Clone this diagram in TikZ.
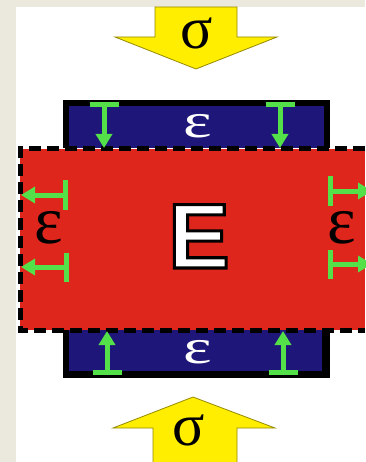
\documentclass[tikz,border=0pt]{standalone}
\usepackage{fontspec}
\setmainfont{Liberation Serif}
\newfontfamily\headfont{Liberation Sans}
\usetikzlibrary{arrows.meta}
\definecolor{paper}{RGB}{235,232,222}
\definecolor{bodyred}{RGB}{222,38,28}
\definecolor{layerblue}{RGB}{30,22,120}
\definecolor{strainbar}{RGB}{84,224,72}
\definecolor{loadyellow}{RGB}{255,238,0}
\definecolor{loadedge}{RGB}{150,138,0}
\begin{document}
\begin{tikzpicture}[x=1pt,y=-1pt,
    load/.style={fill=loadyellow,draw=loadedge,line width=0.8pt},
    strain/.style={strainbar,line width=5pt,{Bar[width=29pt]}-{Triangle[width=16pt,length=14pt]}},
    frame/.style={line width=5pt,dash pattern=on 12pt off 6pt},
    eps/.style={inner sep=0pt,font=\fontsize{68}{68}\selectfont},
    sig/.style={inner sep=0pt,font=\fontsize{60}{60}\selectfont}]
    \useasboundingbox (0,0) rectangle (365,462);
    \fill[paper] (0,0) rectangle (365,462);
    \fill[white] (16,7) rectangle (365,462);

    % loaded body
    \fill[bodyred] (20,149) rectangle (365,330);
    \fill[black] (63,100) rectangle (330,148);
    \fill[layerblue] (69,106) rectangle (324,148);
    \fill[black] (63,330) rectangle (330,378);
    \fill[layerblue] (69,330) rectangle (322,371);
    \draw[frame] (365,149) -- (20,149) -- (20,330) -- (365,330);

    % strain markers
    \draw[strain] (104,102) -- (104,148);
    \draw[strain] (280,102) -- (280,148);
    \draw[strain] (107,375) -- (107,331);
    \draw[strain] (283,375) -- (283,331);
    \draw[strain] (68,195) -- (21,195);
    \draw[strain] (69,267) -- (21,267);
    \draw[strain] (328,191) -- (372,191);
    \draw[strain] (328,264) -- (372,264);

    % applied stress
    \draw[load] (155,7) -- (237,7) -- (237,37) -- (277,37) -- (196,69) -- (115,37) -- (155,37) -- cycle;
    \draw[load] (153,463) -- (153,428) -- (113,428) -- (193,397) -- (275,428) -- (237,428) -- (237,463);
    \node[sig] (sigtop) at (197,33) {σ};
    \node[sig] (sigbot) at (189,430) {σ};

    % labels
    \node[eps,text=white,yscale=0.72] (epstop) at (198,126) {ε};
    \node[eps,text=white,yscale=0.72] (epsbot) at (198,352) {ε};
    \node[eps] (epsleft) at (49,228) {ε};
    \node[eps] (epsright) at (342,228) {ε};
    \node[inner sep=0pt,anchor=base,text=white,font=\headfont\bfseries\fontsize{92}{92}\selectfont] (modulus) at (199,268)
        {\special{pdf:literal direct 0 0 0 RG 2 Tr 3 w}E\special{pdf:literal direct 0 Tr}};
\end{tikzpicture}
\end{document}
